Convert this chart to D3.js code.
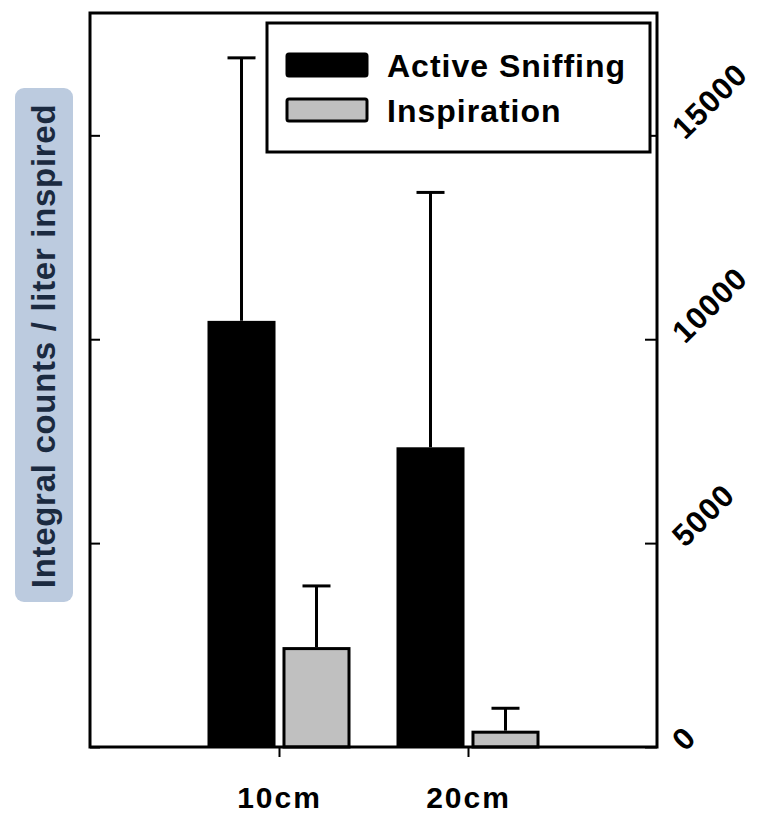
<!DOCTYPE html>
<html lang="en">
<head>
<meta charset="UTF-8">
<title>Integral counts</title>
<style>
  body { margin: 0; background: #fff; }
  text { font-family: "Liberation Sans", Arial, sans-serif; font-weight: bold; }
</style>
</head>
<body>
<script src="https://cdnjs.cloudflare.com/ajax/libs/d3/7.8.5/d3.min.js"></script>
<script>
var categories = ['10cm', '20cm'];
var seriesNames = ['Active Sniffing', 'Inspiration'];
var activeMean = [10450, 7350];
var activeSD = [6450, 6250];
var inspMean = [2450, 400];
var inspSD = [1500, 550];
var yTicks = [0, 5000, 10000, 15000];

var colors = { 'Active Sniffing': '#000', 'Inspiration': '#c0c0c0' };

var rows = [];
categories.forEach(function(c, i) {
    rows.push({ cat: c, s: 'Active Sniffing', v: activeMean[i], e: activeSD[i] });
    rows.push({ cat: c, s: 'Inspiration', v: inspMean[i], e: inspSD[i] });
});

var W = 760, H = 821;
var pLeft = 90, pRight = 657, pTop = 13, pBottom = 747;

var svg = d3.select('body').append('svg')
    .attr('width', W)
    .attr('height', H);

var x = d3.scalePoint().domain(categories).range([pLeft, pRight]).padding(1);
var xs = d3.scaleBand().domain(seriesNames).range([-71.5, 71.5]).paddingInner(0.093);
var y = d3.scaleLinear().domain([0, 18000]).range([pBottom, pTop]);

// y label box
svg.append('rect')
    .attr('x', 15).attr('y', 88)
    .attr('width', 58).attr('height', 514)
    .attr('rx', 9)
    .attr('fill', '#bccbdf');
svg.append('text')
    .attr('transform', 'translate(55,346) rotate(-90)')
    .attr('text-anchor', 'middle')
    .attr('fill', '#1b2a40')
    .style('font-size', '33px')
    .style('letter-spacing', '0.7px')
    .text('Integral counts / liter inspired');

// bars
svg.selectAll('rect.bar')
    .data(rows)
    .enter()
    .append('rect')
    .attr('class', 'bar')
    .attr('x', function(d) {
        var b = x(d.cat) + xs(d.s);
        return d.s === 'Inspiration' ? b + 1.5 : b;
    })
    .attr('y', function(d) { return y(d.v) + (d.s === 'Inspiration' ? 1.5 : 0); })
    .attr('width', function(d) { return xs.bandwidth() - (d.s === 'Inspiration' ? 3 : 0); })
    .attr('height', function(d) { return y(0) - y(d.v) - (d.s === 'Inspiration' ? 1.5 : 0); })
    .attr('fill', function(d) { return colors[d.s]; })
    .attr('stroke', function(d) { return d.s === 'Inspiration' ? '#000' : 'none'; })
    .attr('stroke-width', 3);

// error bars
var err = svg.selectAll('g.err')
    .data(rows)
    .enter()
    .append('g')
    .attr('class', 'err')
    .attr('stroke', '#000')
    .attr('stroke-width', 3);
err.append('line')
    .attr('x1', function(d) { return x(d.cat) + xs(d.s) + xs.bandwidth() / 2; })
    .attr('x2', function(d) { return x(d.cat) + xs(d.s) + xs.bandwidth() / 2; })
    .attr('y1', function(d) { return y(d.v); })
    .attr('y2', function(d) { return y(d.v + d.e); });
err.append('line')
    .attr('x1', function(d) { return x(d.cat) + xs(d.s) + xs.bandwidth() / 2 - 14; })
    .attr('x2', function(d) { return x(d.cat) + xs(d.s) + xs.bandwidth() / 2 + 14; })
    .attr('y1', function(d) { return y(d.v + d.e); })
    .attr('y2', function(d) { return y(d.v + d.e); });

// frame
svg.append('rect')
    .attr('x', pLeft).attr('y', pTop)
    .attr('width', pRight - pLeft).attr('height', pBottom - pTop)
    .attr('fill', 'none')
    .attr('stroke', '#000')
    .attr('stroke-width', 3);

// left axis, ticks only
var gl = svg.append('g')
    .attr('transform', 'translate(' + pLeft + ',0)')
    .call(d3.axisLeft(y).tickValues(yTicks).tickSize(-10).tickFormat(''));
gl.select('.domain').remove();
gl.selectAll('line').attr('stroke-width', 2);

// right axis
var gr = svg.append('g')
    .attr('transform', 'translate(' + pRight + ',0)')
    .call(d3.axisRight(y).tickValues(yTicks).tickFormat(d3.format('d'))
        .tickSizeInner(-12).tickSizeOuter(0));
gr.select('.domain').remove();
gr.selectAll('line').attr('stroke-width', 2);
gr.selectAll('text')
    .attr('x', 0)
    .attr('dy', null)
    .attr('fill', '#000')
    .attr('text-anchor', 'start')
    .attr('transform', 'translate(28,5) rotate(-45)')
    .style('font-size', '31px')
    .style('font-family', '"Liberation Sans", Arial, sans-serif')
    .style('letter-spacing', '1px');

// bottom axis
var gb = svg.append('g')
    .attr('transform', 'translate(0,' + pBottom + ')')
    .call(d3.axisBottom(x).tickSizeInner(10).tickSizeOuter(0));
gb.select('.domain').remove();
gb.selectAll('line').attr('stroke-width', 2);
gb.selectAll('text')
    .attr('y', 61)
    .attr('dy', null)
    .attr('fill', '#000')
    .style('font-size', '30px')
    .style('font-family', '"Liberation Sans", Arial, sans-serif')
    .style('letter-spacing', '2px');

// legend
var lg = svg.append('g');
lg.append('rect')
    .attr('x', 267).attr('y', 23)
    .attr('width', 383).attr('height', 129)
    .attr('fill', '#fff')
    .attr('stroke', '#000')
    .attr('stroke-width', 3);
var li = lg.selectAll('g.item')
    .data(seriesNames)
    .enter()
    .append('g')
    .attr('transform', function(d, i) { return 'translate(0,' + (i * 45) + ')'; });
li.append('rect')
    .attr('x', 287).attr('y', 54)
    .attr('width', 80).attr('height', 22)
    .attr('rx', 2)
    .attr('fill', function(d) { return colors[d]; })
    .attr('stroke', '#000')
    .attr('stroke-width', 3);
li.append('text')
    .attr('x', 387).attr('y', 77)
    .style('font-size', '32px')
    .style('letter-spacing', '1px')
    .text(function(d) { return d; });
</script>
</body>
</html>
